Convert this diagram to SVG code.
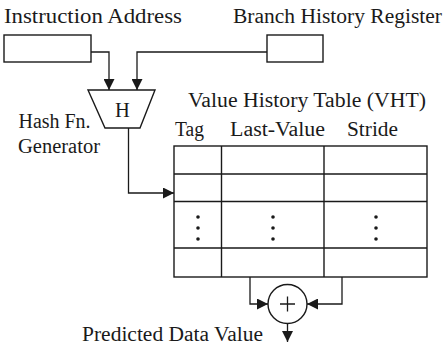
<svg xmlns="http://www.w3.org/2000/svg" width="443" height="347" viewBox="0 0 443 347">
<defs>
<style>
.t{font-family:"Liberation Serif","Times New Roman",serif;font-size:20.5px;fill:#1a1a1a}
.s{fill:none;stroke:#1a1a1a;stroke-width:1.4}
.c{fill:none;stroke:#1a1a1a;stroke-width:1.3}
.d{fill:#1a1a1a}
</style>
<marker id="ah" viewBox="0 0 10 10" refX="10" refY="5" markerWidth="11" markerHeight="11" markerUnits="userSpaceOnUse" orient="auto">
<path d="M0,0 L10,5 L0,10 z" fill="#1a1a1a"/>
</marker>
</defs>
<rect width="443" height="347" fill="#fff"/>
<g id="instr-addr">
<text class="t" x="4" y="23" textLength="178" lengthAdjust="spacingAndGlyphs">Instruction Address</text>
<rect class="s" x="4" y="35" width="87" height="27"/>
</g>
<g id="bhr">
<text class="t" x="233" y="23" textLength="209" lengthAdjust="spacingAndGlyphs">Branch History Register</text>
<rect class="s" x="267" y="35" width="56" height="27"/>
</g>
<g id="hash">
<polygon class="s" points="88,90 155,90 140,128 105,128"/>
<text class="t" x="122.5" y="116.5" text-anchor="middle" font-size="21">H</text>
<text class="t" x="18.5" y="128" textLength="72" lengthAdjust="spacingAndGlyphs">Hash Fn.</text>
<text class="t" x="18" y="153" textLength="82" lengthAdjust="spacingAndGlyphs">Generator</text>
</g>
<g id="vht">
<text class="t" x="188" y="107" textLength="238" lengthAdjust="spacingAndGlyphs">Value History Table (VHT)</text>
<text class="t" x="175" y="136" textLength="29" lengthAdjust="spacingAndGlyphs">Tag</text>
<text class="t" x="230" y="136" textLength="95" lengthAdjust="spacingAndGlyphs">Last-Value</text>
<text class="t" x="347" y="136" textLength="51" lengthAdjust="spacingAndGlyphs">Stride</text>
<rect class="s" x="174" y="146" width="253" height="131"/>
<path class="s" d="M221.5,146 V277 M324,146 V277 M174,174 H427 M174,201.5 H427 M174,248 H427"/>
<circle class="d" cx="198" cy="217" r="1.8"/><circle class="d" cx="198" cy="228" r="1.8"/><circle class="d" cx="198" cy="239" r="1.8"/>
<circle class="d" cx="273" cy="217" r="1.8"/><circle class="d" cx="273" cy="228" r="1.8"/><circle class="d" cx="273" cy="239" r="1.8"/>
<circle class="d" cx="376" cy="217" r="1.8"/><circle class="d" cx="376" cy="228" r="1.8"/><circle class="d" cx="376" cy="239" r="1.8"/>
</g>
<g id="adder">
<circle class="s" cx="287.5" cy="304" r="19.5"/>
<path class="c" d="M280,304 H295 M287.5,296.5 V311.5"/>
</g>
<g id="output">
<text class="t" x="82" y="341" textLength="181" lengthAdjust="spacingAndGlyphs">Predicted Data Value</text>
</g>
<g id="connectors">
<path class="c" d="M91,52 H109 V90" marker-end="url(#ah)"/>
<path class="c" d="M267,52 H137 V90" marker-end="url(#ah)"/>
<path class="c" d="M128.5,128 V193 H174" marker-end="url(#ah)"/>
<path class="c" d="M250,277 V304 H268" marker-end="url(#ah)"/>
<path class="c" d="M342,277 V304 H307" marker-end="url(#ah)"/>
<path class="c" d="M287.5,323.5 V342" marker-end="url(#ah)"/>
</g>
</svg>
